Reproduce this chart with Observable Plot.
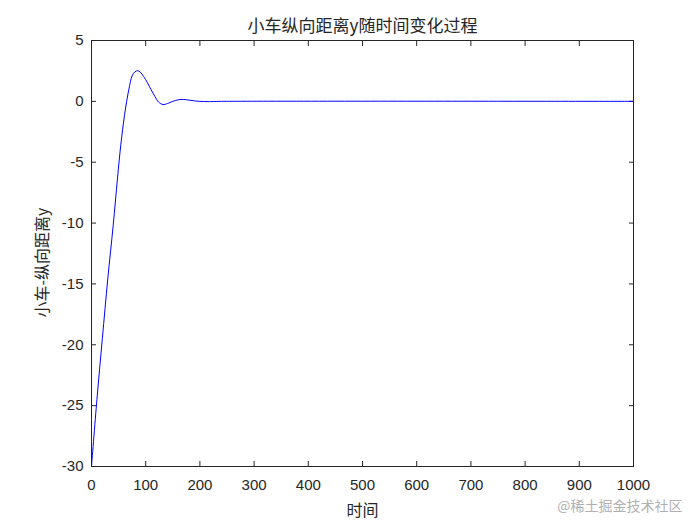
<!DOCTYPE html>
<html><head><meta charset="utf-8">
<script src="https://cdn.jsdelivr.net/npm/d3@7"></script>
<script src="https://cdn.jsdelivr.net/npm/@observablehq/plot@0.6"></script>
<style>body{margin:0;background:#fff}</style>
</head><body><div id="chart"></div>
<script>
const t = [0,10,20,30,40,48,54,61,69,75,80,85,90,96,103,110,117,124,132,140,150,160,170,180,190,200,215,240,1000];
const yv = [-30,-24.5,-19.5,-14.6,-10.2,-6.3,-3.6,-1.1,1.0,2.1,2.42,2.52,2.4,2.05,1.55,0.95,0.4,-0.07,-0.26,-0.18,0,0.13,0.16,0.1,0.04,0,-0.02,0,0];
const xTicks = [0,100,200,300,400,500,600,700,800,900,1000];
const yTicks = [-30,-25,-20,-15,-10,-5,0,5];
const title = "小车纵向距离y随时间变化过程";
const xLabel = "时间";
const yLabel = "小车-纵向距离y";
const watermark = "@稀土掘金技术社区";

const data = t.map((d,i)=>({t:d, y:yv[i]}));
const ink = "#262626";
const fmt = d => String(d);
const chart = Plot.plot({
  width: 700, height: 525,
  marginLeft: 91, marginRight: 67, marginTop: 40, marginBottom: 59,
  style: {fontFamily: "'Liberation Sans', Arial, sans-serif", fontSize: "15px", color: ink, background: "#fff"},
  x: {domain: [0,1000]},
  y: {domain: [-30,5]},
  marks: [
    Plot.frame({stroke: ink, strokeWidth: 1}),
    Plot.axisX(xTicks, {anchor: "bottom", tickSize: -5, tickPadding: 18, tickFormat: fmt, label: null, fontSize: 15, stroke: ink, fill: ink}),
    Plot.axisX(xTicks, {anchor: "top", tickSize: -5, tickFormat: () => "", label: null, stroke: ink}),
    Plot.axisY(yTicks, {anchor: "left", tickSize: -5, tickPadding: 13, tickFormat: fmt, label: null, fontSize: 15, stroke: ink, fill: ink}),
    Plot.axisY(yTicks, {anchor: "right", tickSize: -5, tickFormat: () => "", label: null, stroke: ink}),
    Plot.line(data, {x: "t", y: "y", stroke: "#0000ff", strokeWidth: 1, curve: "catmull-rom"}),
    Plot.text([title], {frameAnchor: "top", dy: -21, fontSize: 17, fill: ink, fontFamily: "'Noto Sans CJK SC', sans-serif"}),
    Plot.text([xLabel], {frameAnchor: "bottom", dy: 49, fontSize: 16, fill: ink, fontFamily: "'Noto Sans CJK SC', sans-serif"}),
    Plot.text([yLabel], {frameAnchor: "left", textAnchor: "middle", dx: -49, dy: 9, rotate: -90, fontSize: 16, fill: ink, fontFamily: "'Noto Sans CJK SC', sans-serif"}),
    Plot.text([watermark], {frameAnchor: "bottom-right", dx: 49, dy: 44, textAnchor: "end", fontSize: 14, fill: "#b0b0b0", fontFamily: "'Noto Sans CJK SC', sans-serif"})
  ]
});
document.getElementById("chart").appendChild(chart);
</script>
</body></html>
